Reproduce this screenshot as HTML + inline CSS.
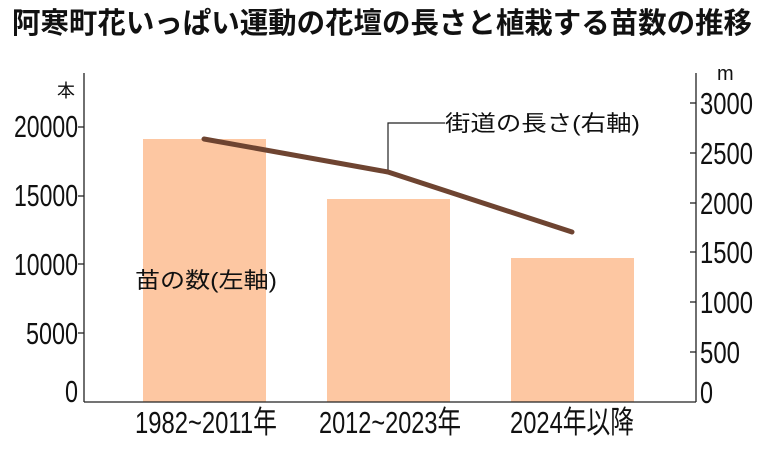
<!DOCTYPE html>
<html><head><meta charset="utf-8"><style>
html,body{margin:0;padding:0;background:#fff;}
svg{display:block;}
text{font-family:"Liberation Sans","Noto Sans CJK JP",sans-serif;fill:#111;}
.n{font-size:31px;}
.j{font-size:22px;}
</style></head><body>
<svg width="765" height="450" viewBox="0 0 765 450" xmlns="http://www.w3.org/2000/svg">
<text x="12" y="33" font-size="29" font-weight="bold" textLength="740" lengthAdjust="spacingAndGlyphs">阿寒町花いっぱい運動の花壇の長さと植栽する苗数の推移</text>
<rect x="143" y="139" width="123" height="263" fill="#fdc7a2"/>
<rect x="327" y="199" width="123" height="203" fill="#fdc7a2"/>
<rect x="511" y="258" width="123" height="144" fill="#fdc7a2"/>
<g stroke="#222" stroke-width="1.3" fill="none">
<line x1="84" y1="73" x2="84" y2="402"/>
<line x1="84" y1="402" x2="696" y2="402"/>
<line x1="696" y1="73" x2="696" y2="402"/>
<line x1="78" y1="127" x2="84" y2="127"/>
<line x1="78" y1="196" x2="84" y2="196"/>
<line x1="78" y1="264" x2="84" y2="264"/>
<line x1="78" y1="333" x2="84" y2="333"/>
<line x1="690" y1="103" x2="696" y2="103"/>
<line x1="690" y1="153" x2="696" y2="153"/>
<line x1="690" y1="203" x2="696" y2="203"/>
<line x1="690" y1="252" x2="696" y2="252"/>
<line x1="690" y1="302" x2="696" y2="302"/>
<line x1="690" y1="352" x2="696" y2="352"/>
<polyline points="388,171 388,123 445,123" stroke-width="1.2"/>
</g>
<g class="n" text-anchor="end">
<text x="78" y="137" textLength="64" lengthAdjust="spacingAndGlyphs">20000</text>
<text x="78" y="206" textLength="64" lengthAdjust="spacingAndGlyphs">15000</text>
<text x="78" y="275" textLength="64" lengthAdjust="spacingAndGlyphs">10000</text>
<text x="78" y="344" textLength="52" lengthAdjust="spacingAndGlyphs">5000</text>
<text x="78" y="402" textLength="13" lengthAdjust="spacingAndGlyphs">0</text>
</g>
<text x="57" y="97" font-size="18">本</text>
<g class="n">
<text x="700" y="114" textLength="53" lengthAdjust="spacingAndGlyphs">3000</text>
<text x="700" y="164" textLength="53" lengthAdjust="spacingAndGlyphs">2500</text>
<text x="700" y="214" textLength="53" lengthAdjust="spacingAndGlyphs">2000</text>
<text x="700" y="263" textLength="53" lengthAdjust="spacingAndGlyphs">1500</text>
<text x="700" y="313" textLength="53" lengthAdjust="spacingAndGlyphs">1000</text>
<text x="700" y="363" textLength="40" lengthAdjust="spacingAndGlyphs">500</text>
<text x="700" y="403" textLength="13" lengthAdjust="spacingAndGlyphs">0</text>
</g>
<text x="717" y="80" font-size="20">m</text>
<g class="n">
<text x="135" y="433" textLength="142" lengthAdjust="spacingAndGlyphs">1982~2011年</text>
<text x="319" y="433" textLength="142" lengthAdjust="spacingAndGlyphs">2012~2023年</text>
<text x="510" y="433" textLength="124" lengthAdjust="spacingAndGlyphs">2024年以降</text>
</g>
<polyline points="204,139 388,172 572,232" fill="none" stroke="#6e4431" stroke-width="5" stroke-linecap="round" stroke-linejoin="round"/>
<text class="j" x="445" y="131" textLength="195" lengthAdjust="spacingAndGlyphs">街道の長さ(右軸)</text>
<text class="j" x="135" y="288" textLength="142" lengthAdjust="spacingAndGlyphs">苗の数(左軸)</text>
</svg>
</body></html>
